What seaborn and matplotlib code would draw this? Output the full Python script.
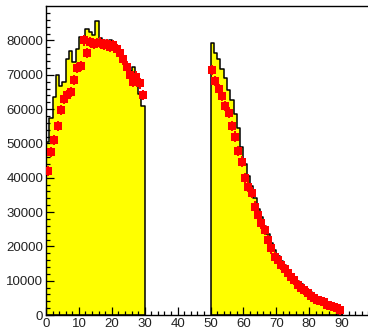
import numpy as np
import pandas as pd
import matplotlib
matplotlib.use("Agg")
import matplotlib.pyplot as plt
import seaborn as sns

# Histogram contents, one value per unit-width bin
low_bins = list(range(0, 30))
low_counts = [50500, 57300, 63600, 70000, 66700, 68000, 74500, 76800, 73850, 77500,
              80950, 80000, 83300, 82500, 81600, 85800, 80700, 80000, 79500, 80000,
              79400, 78000, 77000, 75300, 72400, 71000, 72400, 70000, 64400, 60900]
high_bins = list(range(50, 90))
high_counts = [79200, 76500, 74500, 71800, 69000, 65600, 62700, 58500, 54500, 49000,
               44000, 40500, 37500, 34000, 31000, 28500, 26000, 23500, 21000, 19000,
               17200, 15800, 14500, 13200, 12000, 11000, 10000, 9000, 8200, 7300,
               6600, 5900, 5200, 4600, 4100, 3600, 3200, 2800, 2400, 2000]

# Measured points drawn over the histogram
low_points = [42000, 47500, 51000, 55000, 59800, 63000, 64000, 65000, 68500, 72000,
              72500, 80000, 76300, 79500, 79000, 79200, 79400, 78800, 79000, 78200,
              78700, 77500, 76300, 74500, 72400, 70000, 68000, 69500, 67500, 64100]
high_points = [71400, 68200, 65800, 63800, 60900, 59000, 55100, 52000, 47800, 44700,
               39900, 37400, 35700, 31600, 29100, 26700, 24800, 21900, 19400, 17000,
               16000, 14600, 13500, 12200, 11200, 10200, 8800, 8000, 7300, 6300,
               5600, 4900, 4400, 4000, 3700, 3000, 2700, 2400, 2000, 1500]
point_err = 1500

y_major = list(range(0, 80001, 10000))
x_major = list(range(0, 91, 10))

plt.rcParams["font.family"] = ["Liberation Sans", "DejaVu Sans"]

W, H = 368, 334
fig = plt.figure(figsize=(W / 100, H / 100), dpi=100)
ax = fig.add_axes([46 / W, 19 / H, 329 / W, 309.5 / H])

for bins, counts in ((low_bins, low_counts), (high_bins, high_counts)):
    df = pd.DataFrame({"x": np.asarray(bins) + 0.5, "w": counts})
    edges = list(bins) + [bins[-1] + 1]
    sns.histplot(data=df, x="x", weights="w", bins=edges, element="step",
                 fill=True, color="#ffff00", alpha=1.0, edgecolor="black",
                 linewidth=1.1, ax=ax)

centers = np.concatenate([np.asarray(low_bins), np.asarray(high_bins)]) + 0.5
points = np.concatenate([low_points, high_points])
ax.errorbar(centers, points, xerr=0.5, yerr=point_err, fmt="none",
            ecolor="#ff0000", elinewidth=1.4, capsize=0, zorder=3)
sns.scatterplot(x=centers, y=points, marker="s", s=28, color="#ff0000",
                edgecolor="#ff0000", linewidth=0, ax=ax, zorder=4)

ax.set_xlim(0, 100)
ax.set_ylim(0, 90200)
ax.set_xticks(x_major)
ax.set_xticks(np.arange(0, 101, 2), minor=True)
ax.set_yticks(y_major)
ax.set_yticks(np.arange(0, 88001, 2000), minor=True)
ax.set_xticklabels([str(v) for v in x_major])
ax.set_yticklabels([str(v) for v in y_major])
ax.set_xlabel("")
ax.set_ylabel("")

ax.tick_params(which="both", direction="in", top=False, right=False,
               colors="black", labelcolor="#222222", labelsize=9.5, width=0.9, pad=2)
ax.tick_params(which="major", length=6)
ax.tick_params(which="minor", length=3)
for s in ax.spines.values():
    s.set_linewidth(1.0)
    s.set_color("black")
ax.set_facecolor("white")
fig.patch.set_facecolor("white")

fig.savefig("out.png", dpi=100)
